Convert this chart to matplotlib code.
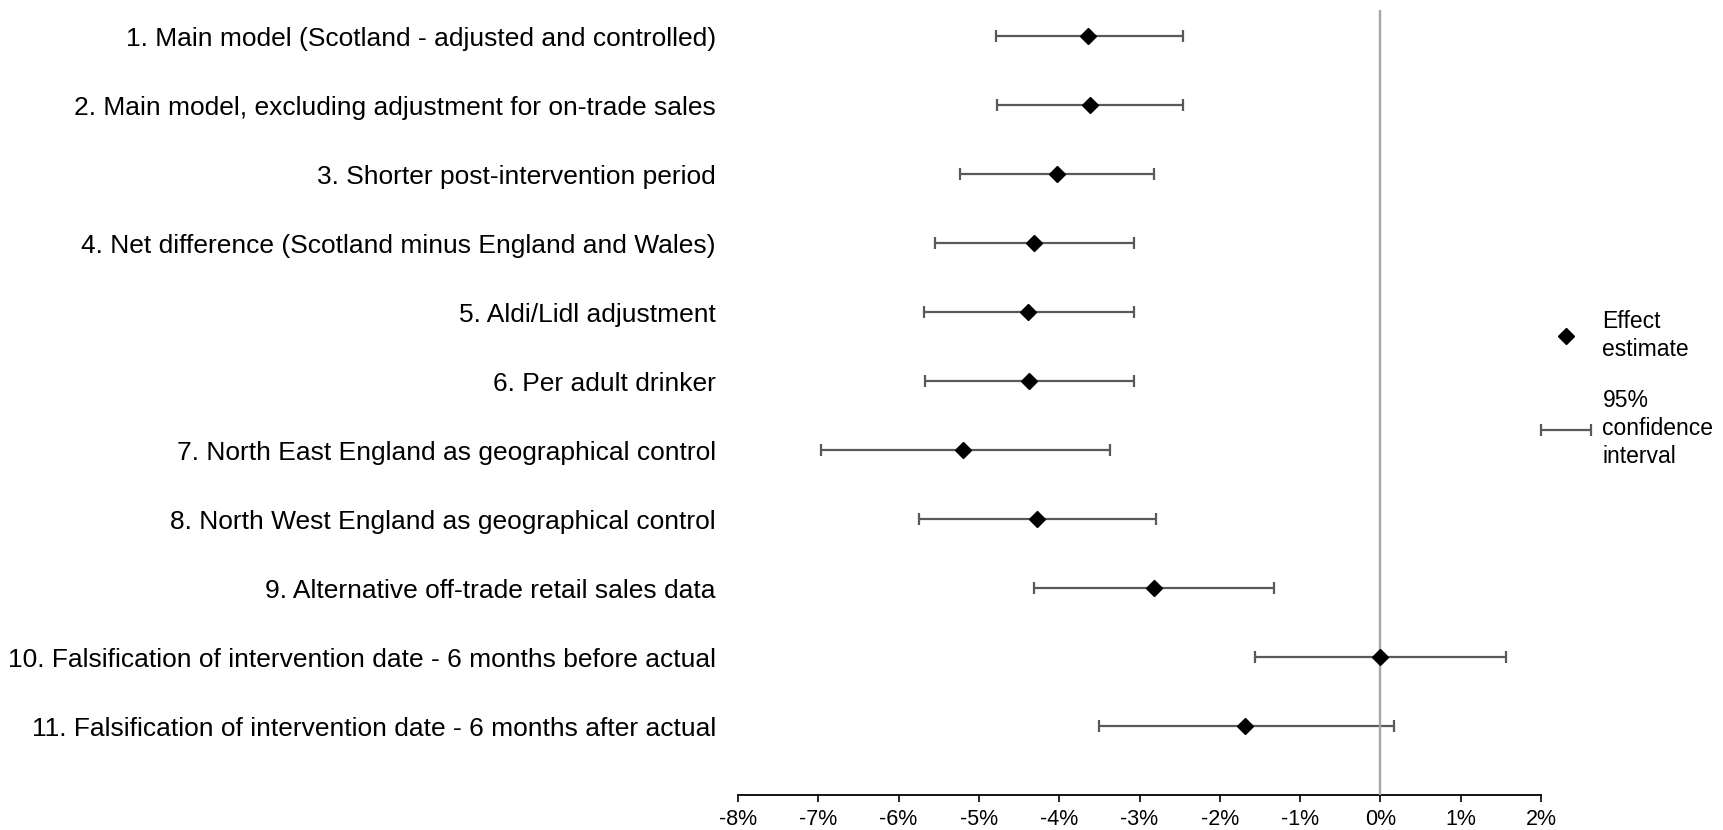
import numpy as np
import matplotlib.pyplot as plt
from matplotlib.container import ErrorbarContainer
from matplotlib.legend_handler import HandlerErrorbar

plt.rcParams['font.family'] = ['Liberation Sans', 'DejaVu Sans']

# sensitivity analyses, effect estimate and 95% CI (percent change)
labels = [
    "1. Main model (Scotland - adjusted and controlled)",
    "2. Main model, excluding adjustment for on-trade sales",
    "3. Shorter post-intervention period",
    "4. Net difference (Scotland minus England and Wales)",
    "5. Aldi/Lidl adjustment",
    "6. Per adult drinker",
    "7. North East England as geographical control",
    "8. North West England as geographical control",
    "9. Alternative off-trade retail sales data",
    "10. Falsification of intervention date - 6 months before actual",
    "11. Falsification of intervention date - 6 months after actual",
]
estimate = [-3.64, -3.62, -4.03, -4.31, -4.39, -4.38, -5.20, -4.28, -2.82, 0.00, -1.69]
ci_low = [-4.79, -4.77, -5.24, -5.55, -5.68, -5.67, -6.97, -5.74, -4.32, -1.56, -3.50]
ci_high = [-2.46, -2.46, -2.82, -3.07, -3.07, -3.07, -3.37, -2.79, -1.32, 1.56, 0.17]

xticks = np.arange(-8, 3, 1)

est = np.array(estimate)
err = np.vstack([est - np.array(ci_low), np.array(ci_high) - est])
ypos = np.arange(1, len(labels) + 1)

fig = plt.figure(figsize=(17.24, 8.30), dpi=100)
ax = fig.add_axes([738 / 1724, 1 - 795 / 830, (1541 - 738) / 1724, (795 - 10) / 830])

eb = ax.errorbar(est, ypos, xerr=err, fmt='none', ecolor='#595959',
                 elinewidth=1.6, capsize=4.5, capthick=1.6, zorder=2)
ax.axvline(0, color='#a6a6a6', lw=1.7, zorder=3)
pts, = ax.plot(est, ypos, linestyle='none', marker='D', color='black',
               markersize=8.5, zorder=4)

ax.set_xlim(-8, 2)
ax.set_ylim(12.0, 0.62)
ax.set_xticks(xticks)
ax.set_xticklabels([f"{t}%" for t in xticks], fontsize=15.5)
ax.set_yticks(ypos)
ax.set_yticklabels(labels, fontsize=19)
ax.tick_params(axis='y', length=0, pad=16)
ax.tick_params(axis='x', length=5, width=1.2, pad=5, direction='out')

for s in ['top', 'right', 'left']:
    ax.spines[s].set_visible(False)
ax.spines['bottom'].set_linewidth(1.3)

leg_fs = 16.5
leg = fig.legend([pts, eb], ["Effect\nestimate", "95%\nconfidence\ninterval"],
                 loc='upper left', bbox_to_anchor=(1541 / 1724, 1 - 310 / 830),
                 frameon=False, fontsize=leg_fs, handlelength=2.2, handletextpad=0.48,
                 labelspacing=1.22, borderpad=0, borderaxespad=0,
                 handler_map={ErrorbarContainer: HandlerErrorbar(xerr_size=1.1)})
for t in leg.get_texts():
    t.set_linespacing(1.28)

fig.savefig("out.png", dpi=100)
